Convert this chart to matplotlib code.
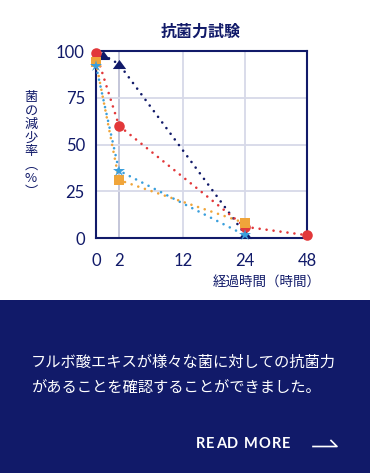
import matplotlib
matplotlib.use("Agg")
import matplotlib.pyplot as plt
import numpy as np
from matplotlib.patches import Rectangle

# data
hour_ticks = [0, 2, 12, 24, 48]
rate_ticks = [0, 25, 50, 75, 100]

navy_x = [0.6, 2, 24]
navy_y = [98, 93, 2]
red_x = [0, 2, 24, 48]
red_y = [99, 60, 6, 1.5]
orange_x = [0, 2, 24]
orange_y = [94, 31, 8]
blue_x = [0, 2, 24]
blue_y = [92, 36, 1.5]

title = "抗菌力試験"
ylabel_text = "菌\nの\n減\n少\n率\n︵\n%\n︶"
xlabel_text = "経過時間（時間）"
body_lines = ["フルボ酸エキスが様々な菌に対しての抗菌力",
              "があることを確認することができました。"]
more_text = "READ MORE"

NAVY = "#111a69"
RED = "#e2383a"
ORANGE = "#f0a53a"
BLUE = "#3a9fdc"
GRID = "#d7d9e8"

W, H = 370, 473
JP = ["Noto Sans CJK JP", "DejaVu Sans"]

# uneven spacing of the hour axis (pixels from 0)
tick_px = [0, 23, 87, 149, 211]


def fwd(x):
    return np.interp(x, hour_ticks, tick_px)


def inv(p):
    return np.interp(p, tick_px, hour_ticks)


# wide, flat triangle like the original
flat_tri = [(-1, -0.68), (1, -0.68), (0, 0.68), (-1, -0.68)]

fig = plt.figure(figsize=(W / 100, H / 100), dpi=100)
fig.patch.set_facecolor("white")

ax = fig.add_axes([96 / W, 1 - 238 / H, 211 / W, 187 / H])
ax.set_xscale("function", functions=(fwd, inv))
ax.set_xlim(0, 48)
ax.set_ylim(0, 100)

ax.grid(axis="y", color=GRID, lw=1.3)
for h in hour_ticks[1:-1]:
    ax.axvline(h, color="#b4b6d0" if h == 2 else GRID, lw=1.1 if h == 2 else 1.3, zorder=0.5)
ax.set_axisbelow(True)

for sp in ax.spines.values():
    sp.set_color(NAVY)
    sp.set_linewidth(1.5)

ax.set_xticks(hour_ticks)
ax.set_xticklabels([str(h) for h in hour_ticks])
ax.set_yticks(rate_ticks)
ax.set_yticklabels([str(r) for r in rate_ticks])
ax.tick_params(length=0, labelsize=12, labelcolor=NAVY)
ax.tick_params(axis="x", pad=11)
ax.tick_params(axis="y", pad=8)
for lab in ax.get_xticklabels() + ax.get_yticklabels():
    lab.set_fontfamily("Lato")

series = [
    (navy_x, navy_y, NAVY, flat_tri, 9.6),
    (red_x, red_y, RED, "o", 7.6),
    (orange_x, orange_y, ORANGE, "s", 7.5),
    (blue_x, blue_y, BLUE, "*", 8.8),
]
for k, (xs, ys, col, mk, ms) in enumerate(series):
    ax.plot(xs, ys, linestyle=(0, (0.01, 2.65)), lw=1.9, color=col,
            dash_capstyle="round", clip_on=False, zorder=2 + k)
    ax.plot(xs, ys, linestyle="none", marker=mk, ms=ms, color=col,
            mew=0, clip_on=False, zorder=10 + k)

fig.text(201 / W, 1 - 32 / H, title, ha="center", va="center",
         fontsize=11.5, color=NAVY, family=JP, fontweight="bold")
fig.text(31 / W, 1 - 145 / H, ylabel_text, ha="center", va="center",
         fontsize=9.5, color=NAVY, family=JP, linespacing=1.05)
fig.text(321 / W, 1 - 283 / H, xlabel_text, ha="right", va="center",
         fontsize=9.7, color=NAVY, family=JP)

# bottom panel
fig.add_artist(Rectangle((0, 0), 1, 173 / H, transform=fig.transFigure,
                         facecolor=NAVY, edgecolor="none", zorder=0))
for i, line in enumerate(body_lines):
    fig.text(31 / W, 1 - (362 + 25 * i) / H, line, ha="left", va="center",
             fontsize=11, color="white", family=JP, zorder=2)

# letter-spaced button label
renderer = fig.canvas.get_renderer()
x_px = 196
for ch in more_text:
    t = fig.text(x_px / W, 1 - 444 / H, ch, ha="left", va="center",
                 fontsize=10.5, color="white", family="Lato",
                 fontweight="bold", zorder=2)
    x_px += t.get_window_extent(renderer).width + 1.1
fig.add_artist(plt.Line2D([313 / W, 337 / W, 331 / W],
                          [1 - 446.5 / H, 1 - 446.5 / H, 1 - 440.5 / H],
                          transform=fig.transFigure, color="white", lw=1.2, zorder=2))

fig.savefig("out.png", dpi=100)
